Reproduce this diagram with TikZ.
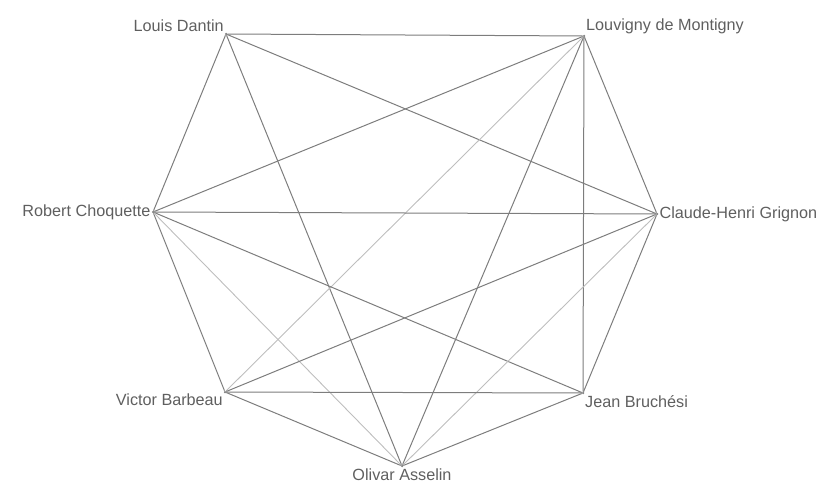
\documentclass[tikz,border=0pt]{standalone}
\usepackage{fontspec}
\setmainfont{Liberation Sans}
\definecolor{edgegray}{RGB}{125,125,125}
\definecolor{lightgray}{RGB}{190,190,190}
\definecolor{textgray}{RGB}{95,95,95}
\usetikzlibrary{positioning}

\begin{document}
\begin{tikzpicture}[x=1pt, y=-1pt,
    person/.style={circle, fill=edgegray, inner sep=0pt, minimum size=2.5pt},
    every label/.style={font=\fontsize{16.2}{18}\selectfont, text=textgray, inner sep=1pt},
    label distance=0pt,
    link/.style={edgegray, line width=1pt},
    faint/.style={lightgray, line width=0.9pt}]
\useasboundingbox (0,0) rectangle (830,487);

% People
\node[person, label=above left:Louis Dantin] (dantin) at (226,34) {};
\node[person, label=above right:Louvigny de Montigny] (montigny) at (584,36) {};
\node[person, label=left:Robert Choquette] (choquette) at (153,212) {};
\node[person, label=right:Claude-Henri Grignon] (grignon) at (657,214) {};
\node[person, label=below left:Victor Barbeau] (barbeau) at (225,392) {};
\node[person, label=below right:Jean Bruchési] (bruchesi) at (583,393) {};
\node[person, label=below:Olivar Asselin] (asselin) at (402,466) {};

% Links
\draw[link] (dantin) -- (montigny);
\draw[link] (dantin) -- (choquette);
\draw[link] (dantin) -- (grignon);
\draw[link] (dantin) -- (asselin);
\draw[link] (montigny) -- (choquette);
\draw[faint] (montigny) -- (barbeau);
\draw[link] (montigny) -- (asselin);
\draw[link] (montigny) -- (bruchesi);
\draw[link] (montigny) -- (grignon);
\draw[link] (choquette) -- (grignon);
\draw[link] (choquette) -- (bruchesi);
\draw[link] (choquette) -- (barbeau);
\draw[faint] (choquette) -- (asselin);
\draw[link] (grignon) -- (barbeau);
\draw[faint] (grignon) -- (asselin);
\draw[link] (grignon) -- (bruchesi);
\draw[link] (barbeau) -- (bruchesi);
\draw[link] (barbeau) -- (asselin);
\draw[link] (bruchesi) -- (asselin);
\end{tikzpicture}
\end{document}
